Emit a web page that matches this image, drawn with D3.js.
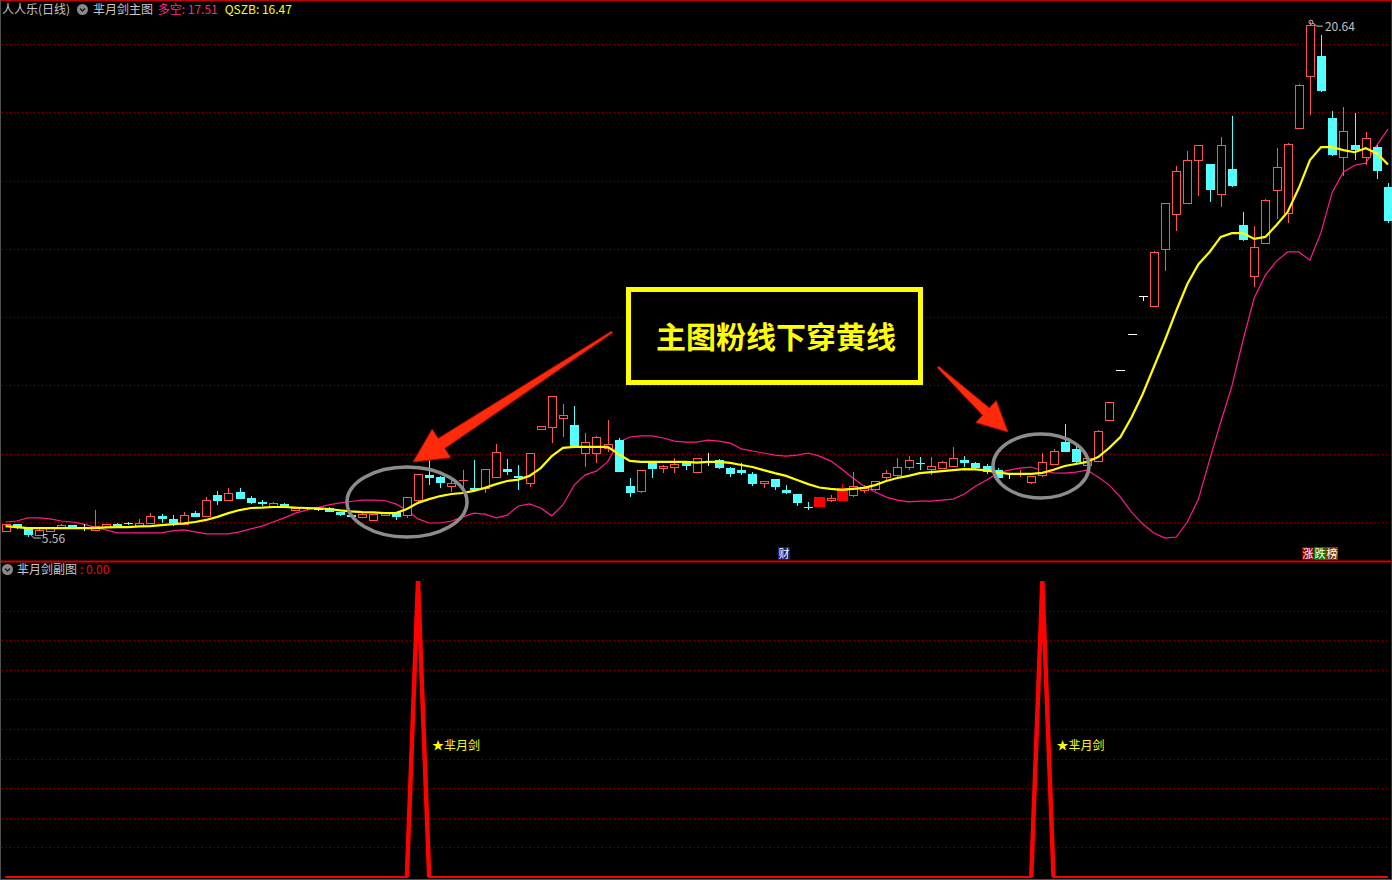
<!DOCTYPE html>
<html><head><meta charset="utf-8">
<script src="https://cdn.jsdelivr.net/npm/d3@7"></script>
<style>body{margin:0;background:#000;overflow:hidden}svg{display:block}</style>
</head><body><svg id="c" width="1392" height="880"></svg>
<script>
// ---------- DATA ----------
const opens=[5.74,5.94,5.82,5.62,5.74,5.85,5.91,5.85,5.77,5.85,5.94,5.97,5.88,5.97,6.18,6.09,5.94,6.26,6.18,6.79,
6.64,6.88,6.70,6.59,6.47,6.53,6.35,6.41,6.38,6.41,6.29,6.20,6.15,6.06,6.20,6.29,6.20,6.64,7.38,7.32,
7.05,7.20,6.99,6.99,7.32,7.55,7.35,7.14,8.72,8.78,9.05,8.84,8.02,8.02,8.17,8.40,7.05,6.91,7.73,7.58,
7.61,7.76,7.46,7.79,7.82,7.58,7.52,7.41,7.14,7.26,6.94,6.82,6.45,6.44,6.64,6.61,6.79,6.94,6.97,7.32,
7.38,7.61,7.74,7.55,7.58,7.64,7.82,7.73,7.64,7.52,7.43,7.40,7.17,7.38,7.70,8.34,8.14,7.67,7.79,8.98,
10.45,11.50,12.62,12.32,14.01,15.02,15.33,16.59,16.48,15.60,16.34,14.70,13.20,14.17,15.72,15.05,17.54,19.06,19.64,17.83,
16.69,17.04,16.69,16.98,15.81];
const highs=[5.95,5.95,5.84,5.79,5.83,5.93,5.92,5.93,6.35,5.95,5.97,6.00,6.09,6.26,6.23,6.20,6.29,6.32,6.73,6.91,
7.00,7.00,6.76,6.64,6.58,6.55,6.42,6.43,6.42,6.43,6.30,6.21,6.29,6.24,6.27,6.30,6.73,7.41,7.84,7.35,
7.29,7.52,7.82,7.55,8.28,7.84,7.67,8.02,8.82,9.70,9.46,9.40,8.61,8.52,8.99,8.46,7.29,7.53,7.79,7.67,
7.87,7.79,7.88,8.03,7.84,7.60,7.73,7.46,7.20,7.27,7.08,6.83,6.59,6.73,6.79,7.11,7.46,7.08,7.20,7.52,
7.87,7.93,7.90,7.90,7.79,8.20,7.93,7.76,7.70,7.58,7.43,7.52,7.35,8.02,8.14,8.87,8.23,7.90,8.68,9.52,
10.45,11.50,12.62,13.93,15.35,16.42,16.86,17.05,16.50,17.27,17.89,15.08,14.67,15.45,16.95,17.10,18.82,20.64,20.26,18.03,
18.15,17.98,17.42,17.04,15.93];
const lows=[5.72,5.80,5.56,5.60,5.73,5.83,5.84,5.78,5.75,5.84,5.87,5.90,5.87,5.96,5.97,5.88,5.93,6.14,6.17,6.50,
6.62,6.66,6.53,6.47,6.46,6.43,6.34,6.36,6.35,6.28,6.19,6.14,6.14,6.05,6.19,6.06,6.12,6.59,7.08,6.99,
6.88,6.94,6.88,6.85,7.30,7.38,6.94,7.02,8.71,8.31,8.49,8.22,7.61,7.73,8.05,7.45,6.73,6.85,7.29,7.43,
7.43,7.52,7.45,7.67,7.56,7.32,7.38,7.05,7.00,6.94,6.83,6.47,6.35,6.44,6.59,6.61,6.73,6.85,6.91,7.23,
7.32,7.52,7.52,7.38,7.55,7.63,7.61,7.55,7.41,7.26,7.29,7.32,7.11,7.32,7.69,8.05,7.73,7.65,7.77,8.95,
10.45,11.50,12.50,12.30,13.36,14.52,15.30,15.54,15.36,15.22,15.82,14.24,12.88,14.15,14.87,14.76,17.52,17.92,18.60,16.73,
16.13,16.60,16.45,16.04,14.76];
const closes=[5.94,5.82,5.62,5.77,5.82,5.90,5.85,5.85,5.88,5.94,5.88,5.94,5.97,6.18,6.09,5.97,6.20,6.15,6.64,6.61,
6.85,6.67,6.56,6.53,6.56,6.44,6.41,6.38,6.38,6.29,6.20,6.15,6.23,6.23,6.26,6.15,6.73,7.41,7.29,7.14,
7.14,7.23,6.94,7.55,8.05,7.46,7.29,8.02,8.81,9.69,9.13,8.23,8.34,8.49,8.28,7.46,6.85,7.52,7.55,7.64,
7.70,7.64,7.87,7.79,7.58,7.41,7.43,7.11,7.20,7.02,6.85,6.56,6.44,6.73,6.70,6.99,7.05,6.99,7.20,7.43,
7.61,7.82,7.73,7.64,7.76,7.87,7.73,7.58,7.46,7.29,7.43,7.43,7.35,7.76,8.08,8.05,7.76,7.87,8.66,9.51,
10.45,11.50,12.62,13.91,15.33,16.28,16.59,17.04,15.71,17.04,15.84,14.26,14.05,15.43,16.40,17.07,18.80,20.55,18.62,16.75,
17.45,16.89,17.24,16.28,14.81];
// QSZB (yellow line)
const qszb=[5.88,5.85,5.82,5.82,5.82,5.82,5.82,5.82,5.82,5.84,5.85,5.85,5.87,5.88,5.91,5.94,5.96,6.00,6.06,6.15,
6.26,6.35,6.41,6.42,6.44,6.44,6.42,6.41,6.40,6.38,6.34,6.31,6.29,6.28,6.26,6.26,6.38,6.56,6.67,6.76,
6.82,6.85,6.91,7.00,7.11,7.20,7.24,7.35,7.58,7.93,8.17,8.20,8.20,8.20,8.20,7.99,7.79,7.76,7.76,7.76,
7.76,7.76,7.74,7.76,7.76,7.73,7.67,7.61,7.52,7.43,7.35,7.23,7.11,7.01,6.97,6.94,6.97,7.00,7.08,7.20,
7.29,7.35,7.43,7.46,7.49,7.52,7.55,7.54,7.51,7.45,7.41,7.41,7.41,7.44,7.53,7.64,7.70,7.76,7.90,8.17,
8.49,9.07,9.75,10.54,11.33,12.18,12.97,13.55,13.91,14.35,14.46,14.46,14.29,14.35,14.70,15.08,15.78,16.60,16.98,16.98,
16.89,16.83,16.95,16.80,16.47];
// 多空 (pink line)
const duokong=[6.00,6.03,6.12,6.12,6.09,6.03,6.00,5.94,5.85,5.77,5.68,5.68,5.68,5.68,5.68,5.74,5.77,5.71,5.65,5.65,
5.65,5.71,5.80,5.88,6.00,6.12,6.26,6.35,6.42,6.50,6.56,6.60,6.64,6.64,6.63,6.53,6.35,6.09,5.97,5.97,
6.03,6.15,6.26,6.23,6.12,6.20,6.47,6.53,6.41,6.18,6.50,7.08,7.38,7.49,7.76,8.34,8.49,8.52,8.52,8.46,
8.37,8.34,8.34,8.40,8.37,8.31,8.14,8.08,8.02,7.96,7.93,7.96,8.02,7.93,7.79,7.55,7.29,7.05,6.88,6.73,
6.64,6.59,6.61,6.61,6.64,6.67,6.82,7.05,7.23,7.43,7.52,7.58,7.61,7.50,7.44,7.43,7.46,7.52,7.32,7.08,
6.73,6.29,5.94,5.68,5.53,5.56,6.00,6.67,7.82,8.93,9.98,11.33,12.56,13.23,13.64,13.91,13.91,13.67,14.49,15.66,
16.25,16.45,16.51,17.04,17.51];
const signalDays=[37,93];          // 芈月剑 signal bars
const solidRedDays=[73,75];        // filled red bars
const priceGrid=[6,8,10,12,14,16,18,20];
const subGrid=[0.1,0.2,0.3,0.4,0.5,0.6,0.7,0.8,0.9];
const lowLabel={i:2,v:5.56}, highLabel={i:117,v:20.64};

// ---------- SETUP ----------
const W=1392,H=880,N=closes.length;
const svg=d3.select('#c');
svg.append('rect').attr('width',W).attr('height',H).attr('fill','#000');
const x=d3.scaleLinear().domain([0,N-1]).range([5.5,1388]);
const y=d3.scaleLinear().domain([6,20]).range([522,44]);
const yb=d3.scaleLinear().domain([0,1]).range([877,581]);
const FONT='"Noto Sans CJK SC","Noto Sans",sans-serif';
const UP='#ff5454',DN='#54ffff';

// frames
svg.append('line').attr('x1',0).attr('x2',W).attr('y1',0.5).attr('y2',0.5).attr('stroke','#c00000').attr('stroke-width',1.5);
svg.append('line').attr('x1',0).attr('x2',W).attr('y1',561.5).attr('y2',561.5).attr('stroke','#d00000').attr('stroke-width',2);
svg.append('line').attr('x1',0.5).attr('x2',0.5).attr('y1',0).attr('y2',H).attr('stroke','#505050');
svg.append('line').attr('x1',W-0.5).attr('x2',W-0.5).attr('y1',0).attr('y2',H).attr('stroke','#303030');
svg.append('line').attr('x1',0).attr('x2',W).attr('y1',879.5).attr('y2',879.5).attr('stroke','#505050');

// grids
svg.append('g').selectAll('line').data(priceGrid).join('line')
  .attr('x1',2).attr('x2',W-2).attr('y1',d=>Math.round(y(d))+0.5).attr('y2',d=>Math.round(y(d))+0.5)
  .attr('stroke','#8a0000').attr('stroke-dasharray','1,3');
svg.append('g').selectAll('line').data(subGrid).join('line')
  .attr('x1',2).attr('x2',W-2).attr('y1',d=>Math.round(yb(d))+0.5).attr('y2',d=>Math.round(yb(d))+0.5)
  .attr('stroke','#8a0000').attr('stroke-dasharray','1,3');

// pink line (多空)
const line=d3.line().x((d,i)=>x(i)).y(d=>y(d));
svg.append('path').attr('d',line(duokong)).attr('fill','none').attr('stroke','#ff1a8c').attr('stroke-width',1.2);

// candles
const cg=svg.append('g').attr('shape-rendering','crispEdges');
for(let i=0;i<N;i++){
  const o=opens[i],c=closes[i],h=highs[i],l=lows[i];
  const px=Math.round(x(i));
  const cx=px+0.5;
  const top=Math.round(y(Math.max(o,c))), bot=Math.round(y(Math.min(o,c)));
  const yh=Math.round(y(h)), yl=Math.round(y(l));
  if(solidRedDays.includes(i)){
    cg.append('line').attr('x1',cx).attr('x2',cx).attr('y1',yh).attr('y2',yl).attr('stroke','#ff0000');
    cg.append('rect').attr('x',px-5).attr('y',top).attr('width',11).attr('height',Math.max(1,bot-top)).attr('fill','#ff0000');
  } else if(c===o){
    cg.append('line').attr('x1',cx).attr('x2',cx).attr('y1',yh).attr('y2',yl+1).attr('stroke','#ffffff');
    cg.append('line').attr('x1',px-4).attr('x2',px+5).attr('y1',top+0.5).attr('y2',top+0.5).attr('stroke','#ffffff');
  } else if(c>o){
    if(yh<top) cg.append('line').attr('x1',cx).attr('x2',cx).attr('y1',yh).attr('y2',top).attr('stroke',UP);
    if(yl>bot) cg.append('line').attr('x1',cx).attr('x2',cx).attr('y1',bot).attr('y2',yl).attr('stroke',UP);
    if(bot-top<2){
      cg.append('line').attr('x1',px-4).attr('x2',px+5).attr('y1',top+0.5).attr('y2',top+0.5).attr('stroke',UP);
    } else {
      cg.append('rect').attr('x',px-3.5).attr('y',top+0.5).attr('width',8).attr('height',bot-top)
        .attr('fill','#000').attr('stroke',UP);
    }
  } else {
    cg.append('line').attr('x1',cx).attr('x2',cx).attr('y1',yh).attr('y2',yl).attr('stroke',DN);
    cg.append('rect').attr('x',px-4).attr('y',top).attr('width',9).attr('height',Math.max(1,bot-top)).attr('fill',DN);
  }
}

// yellow line (QSZB)
svg.append('path').attr('d',line(qszb)).attr('fill','none').attr('stroke','#ffff00').attr('stroke-width',2.2);

// low / high labels
const lx=x(lowLabel.i)+1, ly=y(lowLabel.v);
svg.append('path').attr('d',`M${lx},${ly-4}L${lx+5},${ly+1}L${lx+12},${ly+1}`).attr('fill','none').attr('stroke','#c0c0c0');
svg.append('text').attr('x',lx+13).attr('y',ly+6).attr('fill','#c0c0c0').attr('font-family',FONT).attr('font-size',12).text(lowLabel.v.toFixed(2));
const hx=x(highLabel.i)+1, hy=y(highLabel.v);
svg.append('circle').attr('cx',hx).attr('cy',hy).attr('r',2).attr('fill','none').attr('stroke','#c0c0c0');
svg.append('path').attr('d',`M${hx+2},${hy+1}L${hx+6},${hy+4}L${hx+12},${hy+4}`).attr('fill','none').attr('stroke','#c0c0c0');
svg.append('text').attr('x',hx+14).attr('y',hy+9).attr('fill','#c0c0c0').attr('font-family',FONT).attr('font-size',12).text(highLabel.v.toFixed(2));

// ellipses
svg.append('ellipse').attr('cx',407).attr('cy',502).attr('rx',60).attr('ry',35).attr('fill','none').attr('stroke','#8c8c8c').attr('stroke-width',3.5);
svg.append('ellipse').attr('cx',1041).attr('cy',466).attr('rx',48).attr('ry',32).attr('fill','none').attr('stroke','#8c8c8c').attr('stroke-width',3.5);

// arrows
function arrow(tail,tip,headLen,headHalf,st,sh){
  const dx=tip[0]-tail[0],dy=tip[1]-tail[1],L=Math.hypot(dx,dy);
  const ux=dx/L,uy=dy/L,nx=-uy,ny=ux;
  const bx=tip[0]-ux*headLen,by=tip[1]-uy*headLen;
  return [[tail[0]+nx*st,tail[1]+ny*st],[bx+nx*sh,by+ny*sh],[bx+nx*headHalf,by+ny*headHalf],tip,
          [bx-nx*headHalf,by-ny*headHalf],[bx-nx*sh,by-ny*sh],[tail[0]-nx*st,tail[1]-ny*st]];
}
[[ [612,332],[413,462],34,17,1,6 ],[ [938,367],[1008,432],30,15,1,5 ]].forEach(a=>{
  svg.append('polygon').attr('points',arrow(...a).map(p=>p.join(',')).join(' '))
    .attr('fill','#ff2a0a').attr('stroke','#b01000').attr('stroke-width',1);
});

// yellow callout box
svg.append('rect').attr('x',628.5).attr('y',289.5).attr('width',292).attr('height',93)
  .attr('fill','#000').attr('stroke','#ffff00').attr('stroke-width',5);
svg.append('text').attr('x',776).attr('y',348).attr('text-anchor','middle').attr('fill','#ffff00')
  .attr('font-family',FONT).attr('font-weight',700).attr('font-size',30).text('主图粉线下穿黄线');

// bottom signal
const signal=d3.range(N).map(i=>signalDays.includes(i)?1:0);
const lineB=d3.line().x((d,i)=>x(i)).y(d=>yb(d));
svg.append('path').attr('d',lineB(signal)).attr('fill','none').attr('stroke','#ff0000').attr('stroke-width',2);
signalDays.forEach(i=>{
  const seg=[i-1,i,i+1];
  svg.append('path').attr('d',d3.line().x(k=>x(k)).y(k=>yb(signal[k]))(seg))
    .attr('fill','none').attr('stroke','#ff0000').attr('stroke-width',4.5).attr('stroke-linejoin','miter').attr('stroke-miterlimit',10);
  svg.append('text').attr('x',x(i)+14).attr('y',750).attr('fill','#ffff00').attr('font-family',FONT).attr('font-size',12).text('★芈月剑');
});

// info tags
const tag=(tx,ty,ch,bg)=>{
  svg.append('rect').attr('x',tx).attr('y',ty).attr('width',12).attr('height',13).attr('fill',bg);
  svg.append('text').attr('x',tx+6).attr('y',ty+11).attr('text-anchor','middle').attr('fill','#ffffff').attr('font-family',FONT).attr('font-size',11).text(ch);
};
tag(778,547,'财','#10207a');
tag(1302,547,'涨','#8a0000');tag(1314,547,'跌','#007a00');tag(1326,547,'榜','#7a3a00');

// header top
const icon=(cx,cy)=>{
  svg.append('circle').attr('cx',cx).attr('cy',cy).attr('r',5.5).attr('fill','#8a8a8a');
  svg.append('path').attr('d',`M${cx-2.5},${cy-1}L${cx},${cy+1.5}L${cx+2.5},${cy-1}`).attr('fill','none').attr('stroke','#1a1a1a').attr('stroke-width',1.4);
};
const t1=svg.append('text').attr('x',2).attr('y',14).attr('font-family',FONT).attr('font-size',12);
t1.append('tspan').attr('fill','#c8c8c8').text('人人乐(日线)');
icon(82.5,9.5);
const t2=svg.append('text').attr('x',93).attr('y',14).attr('font-family',FONT).attr('font-size',12);
t2.append('tspan').attr('fill','#c8c8c8').text('芈月剑主图 ');
t2.append('tspan').attr('fill','#ff2a8a').attr('dx',2).text('多空: '+duokong[N-1].toFixed(2));
t2.append('tspan').attr('fill','#ffff00').attr('dx',7).text('QSZB: '+qszb[N-1].toFixed(2));

// header bottom
icon(7.5,569.5);
const t3=svg.append('text').attr('x',17).attr('y',574).attr('font-family',FONT).attr('font-size',12);
t3.append('tspan').attr('fill','#c8c8c8').text('芈月剑副图');
t3.append('tspan').attr('fill','#ff0000').attr('dx',3).text(': '+signal[N-1].toFixed(2));
</script></body></html>
